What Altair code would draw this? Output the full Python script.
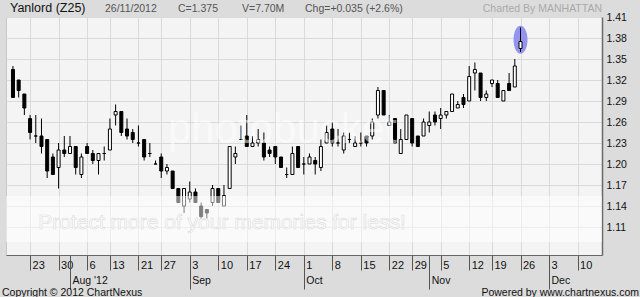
import json
import altair as alt
import pandas as pd

# ---------------- data ----------------
opens = [1.335, 1.320, 1.300, 1.265, 1.240, 1.240, 1.235, 1.210, 1.195, 1.220,
         1.215, 1.225, 1.185, 1.225, 1.215, 1.205, 1.215, 1.220, 1.270, 1.275,
         1.250, 1.245, 1.230, 1.235, 1.215, 1.200, 1.210, 1.190, 1.190, 1.165,
         1.140, 1.150, 1.160, 1.140, 1.135, 1.145, 1.165, 1.140, 1.165, 1.210,
         1.235, 1.240, 1.225, 1.230, 1.230, 1.220, 1.225, 1.210, 1.185, 1.185,
         1.225, 1.200, 1.200, 1.205, 1.195, 1.230, 1.250, 1.230, 1.220, 1.235,
         1.225, 1.230, 1.240, 1.240, 1.270, 1.305, 1.255, 1.265, 1.215, 1.235,
         1.265, 1.240, 1.240, 1.255, 1.270, 1.265, 1.270, 1.275, 1.280, 1.295,
         1.290, 1.330, 1.330, 1.295, 1.315, 1.315, 1.290, 1.315, 1.310, 1.365]
highs = [1.340, 1.320, 1.300, 1.270, 1.270, 1.265, 1.235, 1.215, 1.230, 1.240,
         1.240, 1.225, 1.215, 1.230, 1.220, 1.215, 1.225, 1.265, 1.285, 1.275,
         1.265, 1.250, 1.255, 1.235, 1.230, 1.205, 1.215, 1.200, 1.190, 1.165,
         1.165, 1.175, 1.165, 1.145, 1.135, 1.170, 1.165, 1.170, 1.225, 1.225,
         1.255, 1.270, 1.240, 1.250, 1.245, 1.225, 1.225, 1.210, 1.195, 1.225,
         1.225, 1.210, 1.215, 1.210, 1.235, 1.255, 1.260, 1.250, 1.245, 1.245,
         1.240, 1.245, 1.240, 1.265, 1.310, 1.305, 1.270, 1.265, 1.250, 1.270,
         1.265, 1.240, 1.265, 1.275, 1.275, 1.280, 1.275, 1.300, 1.290, 1.300,
         1.340, 1.345, 1.330, 1.305, 1.320, 1.320, 1.305, 1.330, 1.350, 1.395]
lows = [1.295, 1.295, 1.270, 1.235, 1.230, 1.215, 1.180, 1.185, 1.165, 1.210,
        1.215, 1.185, 1.180, 1.215, 1.200, 1.185, 1.205, 1.220, 1.255, 1.240,
        1.235, 1.230, 1.225, 1.205, 1.210, 1.200, 1.180, 1.185, 1.165, 1.145,
        1.130, 1.145, 1.145, 1.120, 1.120, 1.140, 1.145, 1.140, 1.165, 1.200,
        1.235, 1.225, 1.225, 1.225, 1.205, 1.210, 1.200, 1.195, 1.180, 1.185,
        1.195, 1.185, 1.200, 1.185, 1.190, 1.230, 1.225, 1.225, 1.215, 1.230,
        1.225, 1.225, 1.225, 1.235, 1.265, 1.270, 1.255, 1.230, 1.215, 1.235,
        1.225, 1.225, 1.240, 1.245, 1.255, 1.250, 1.265, 1.275, 1.280, 1.280,
        1.290, 1.305, 1.290, 1.290, 1.310, 1.295, 1.290, 1.305, 1.310, 1.360]
closes = [1.295, 1.305, 1.280, 1.245, 1.240, 1.225, 1.190, 1.185, 1.220, 1.215,
          1.225, 1.195, 1.210, 1.215, 1.205, 1.215, 1.215, 1.250, 1.275, 1.245,
          1.240, 1.235, 1.230, 1.210, 1.215, 1.200, 1.190, 1.195, 1.165, 1.145,
          1.165, 1.160, 1.145, 1.125, 1.130, 1.165, 1.145, 1.155, 1.225, 1.215,
          1.235, 1.225, 1.230, 1.235, 1.210, 1.215, 1.210, 1.195, 1.185, 1.215,
          1.195, 1.200, 1.210, 1.200, 1.225, 1.245, 1.230, 1.230, 1.240, 1.235,
          1.230, 1.230, 1.230, 1.260, 1.305, 1.270, 1.260, 1.230, 1.235, 1.270,
          1.230, 1.225, 1.260, 1.260, 1.260, 1.270, 1.275, 1.300, 1.285, 1.285,
          1.325, 1.335, 1.295, 1.300, 1.320, 1.295, 1.305, 1.305, 1.340, 1.375]

holidays = ["2012-08-09", "2012-08-20", "2012-10-26", "2012-11-13"]
week_ticks = ["2012-07-23", "2012-07-30", "2012-08-06", "2012-08-13", "2012-08-21",
              "2012-08-27", "2012-09-03", "2012-09-10", "2012-09-17", "2012-09-24",
              "2012-10-01", "2012-10-08", "2012-10-15", "2012-10-22", "2012-10-29",
              "2012-11-05", "2012-11-12", "2012-11-19", "2012-11-26", "2012-12-03",
              "2012-12-10"]
week_labels = ["23", "30", "6", "13", "21", "27", "3", "10", "17", "24", "1", "8",
               "15", "22", "29", "5", "12", "19", "26", "3", "10"]
month_ticks = ["2012-08-01", "2012-09-03", "2012-10-01", "2012-11-01", "2012-12-03"]
month_labels = ["Aug '12", "Sep", "Oct", "Nov", "Dec"]
price_ticks = [1.11, 1.14, 1.17, 1.20, 1.23, 1.26, 1.29, 1.32, 1.35, 1.38, 1.41]

# trading sessions (SGX) incl. a few empty future sessions shown on the axis
session = [d.strftime("%Y-%m-%d") for d in pd.bdate_range("2012-07-18", "2012-12-14")
           if d.strftime("%Y-%m-%d") not in holidays]
pos = {d: i for i, d in enumerate(session)}
dates = session[:len(closes)]

df = pd.DataFrame({"date": dates, "idx": [pos[d] for d in dates],
                   "open": opens, "high": highs, "low": lows, "close": closes})

week_idx = [pos[d] for d in week_ticks]
month_idx = [pos[d] for d in month_ticks]
wk_arr = [""] * len(session)
for i, l in zip(week_idx, week_labels):
    wk_arr[i] = l
mo_arr = [""] * len(session)
for i, l in zip(month_idx, month_labels):
    mo_arr[i] = l
wk_expr = "[" + ",".join(json.dumps(s) for s in wk_arr) + "][datum.value]"
mo_expr = "[" + ",".join(json.dumps(s) for s in mo_arr) + "][datum.value]"

# ---------------- layout ----------------
W, H = 596, 238
PX_DAY = 5.8
x_min = -2 / PX_DAY
x_dom = [x_min, x_min + W / PX_DAY]
FONT = "Liberation Sans"
GRID = "#dadada"

xs = alt.Scale(domain=x_dom, nice=False, zero=False)
ys = alt.Scale(domain=[1.07, 1.41], nice=False, zero=False)

week_axis = alt.Axis(orient="bottom", values=week_idx, labelExpr=wk_expr, grid=True,
                     gridColor=GRID, gridWidth=1, tickSize=15, tickColor="#555555",
                     labelAlign="left", labelBaseline="top", labelPadding=-11,
                     labelOffset=2, labelFont=FONT, labelFontSize=11, labelColor="#111111",
                     labelFlush=False, labelOverlap=False, domain=True,
                     domainColor="#666666", title=None)
month_axis = alt.Axis(orient="bottom", values=month_idx, labelExpr=mo_expr, grid=False,
                      tickSize=34, tickColor="#555555", labelAlign="left",
                      labelBaseline="top", labelPadding=-14, labelOffset=2,
                      labelFont=FONT, labelFontSize=10.5, labelColor="#111111",
                      labelFlush=False, labelOverlap=False, domain=False, title=None)
price_axis = alt.Axis(orient="right", values=price_ticks, format=".2f", grid=True,
                      gridColor=GRID, ticks=False, labelPadding=4,
                      labelFont=FONT, labelFontSize=10.5, labelColor="#111111",
                      labelOverlap=False, labelFlush=False,
                      domainColor="#6a6a6a", domainWidth=1.5, title=None)

base = alt.Chart(df)

ellipse_path = "M -0.5 0 A 0.5 1 0 1 1 0.5 0 A 0.5 1 0 1 1 -0.5 0 Z"
highlight = base.transform_filter(alt.datum.date == dates[-1]).transform_calculate(
    mid="(datum.high + datum.low) / 2"
).mark_point(shape=ellipse_path, size=784, filled=True, fill="#9494ee",
             opacity=1, strokeWidth=0).encode(
    x=alt.X("idx:Q", scale=xs, axis=None),
    y=alt.Y("mid:Q", scale=ys, axis=price_axis),
)

wicks = base.mark_rule(color="#000000", strokeWidth=1).encode(
    x=alt.X("idx:Q", scale=xs, axis=week_axis),
    y=alt.Y("low:Q", scale=ys, axis=price_axis),
    y2="high:Q",
)

bodies = base.mark_bar(size=3, stroke="#000000", strokeWidth=1).encode(
    x=alt.X("idx:Q", scale=xs, axis=month_axis),
    y=alt.Y("open:Q", scale=ys, axis=price_axis),
    y2="close:Q",
    fill=alt.condition("datum.close >= datum.open", alt.value("#ffffff"), alt.value("#000000")),
)

one = pd.DataFrame({"k": [0]})

# photobucket watermark overlay (decoration)
band = alt.Chart(one).mark_rect(fill="#ffffff", opacity=0.5).encode(
    x=alt.value(0), x2=alt.value(W), y=alt.value(179), y2=alt.value(225))
wm_text = alt.Chart(one).mark_text(text="Protect more of your memories for less!",
                                   font=FONT, fontSize=21, fill="#ffffff",
                                   stroke="#dadada", strokeWidth=0.6, align="center",
                                   baseline="alphabetic").encode(
    x=alt.value(216), y=alt.value(212))
wm_logo = alt.Chart(one).mark_text(text="photobucket", font=FONT, fontSize=42,
                                   fill="#ffffff", opacity=0.5, align="left",
                                   baseline="alphabetic").encode(
    x=alt.value(162), y=alt.value(126))


def label(txt, x, y, size, color, align="left"):
    return alt.Chart(one).mark_text(text=txt, font=FONT, fontSize=size, color=color,
                                    align=align, baseline="alphabetic").encode(
        x=alt.value(x), y=alt.value(y))


header = [
    label("Yanlord (Z25)", 4, -5, 12.5, "#111111"),
    label("26/11/2012", 99, -5, 10.5, "#555555"),
    label("C=1.375", 172, -5, 10.5, "#555555"),
    label("V=7.70M", 236, -5, 10.5, "#555555"),
    label("Chg=+0.035 (+2.6%)", 299, -5, 10.5, "#555555"),
    label("Charted By MANHATTAN", W, -5, 10.5, "#aaaaaa", align="right"),
    label("Copyright \u00a9 2012 ChartNexus", -4, 278.5, 10.5, "#111111"),
    label("Powered by www.chartnexus.com", 633, 278.5, 10.5, "#111111", align="right"),
]

chart = alt.layer(highlight, wicks, bodies, band, wm_text, wm_logo, *header).resolve_axis(
    x="independent"
).properties(
    width=W, height=H,
    padding={"left": 6, "top": 17, "right": 38, "bottom": 42},
    autosize=alt.AutoSizeParams(type="none"),
).configure(background="#dcdcdc").configure_view(fill="#f4f4f4", stroke="#c8c8c8")

chart.save("out.html", embed_options={"renderer": "svg", "actions": False})
